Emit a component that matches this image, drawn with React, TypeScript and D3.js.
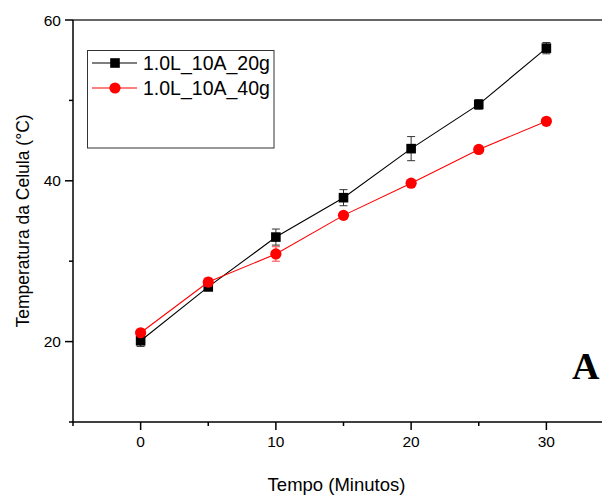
import React from 'react';
import * as d3 from 'd3';

// tempo em minutos
const tempo = [0, 5, 10, 15, 20, 25, 30];

// 1.0L_10A_20g
const serie20g = [20.1, 26.8, 33.0, 37.9, 44.0, 49.5, 56.5];
const erro20g = [0.7, 0.4, 1.0, 1.0, 1.5, 0.6, 0.7];

// 1.0L_10A_40g
const serie40g = [21.1, 27.4, 30.9, 35.7, 39.7, 43.9, 47.4];
const erro40g = [0.3, 0.5, 0.9, 0.3, 0.2, 0.2, 0.2];

const xMajor = [0, 10, 20, 30];
const xMinor = [-5, 5, 15, 25, 35];
const yMajor = [20, 40, 60];
const yMinor = [30, 50];

const width = 602;
const height = 498;
const font = "'Liberation Sans', Arial, sans-serif";

const App = () => {
  const x = d3.scaleLinear().domain([-5, 35]).range([73, 614]);
  const y = d3.scaleLinear().domain([10, 60]).range([422, 20]);

  const line = d3.line<number>()
    .x((_, i) => x(tempo[i]))
    .y(d => y(d));

  const series = [
    { name: '1.0L_10A_20g', values: serie20g, err: erro20g, color: '#000000', errColor: '#333333', shape: 'square' },
    { name: '1.0L_10A_40g', values: serie40g, err: erro40g, color: '#ff0000', errColor: '#ff4040', shape: 'circle' },
  ];

  const marker = (shape: string, cx: number, cy: number, color: string, key?: string) =>
    shape === 'square'
      ? <rect key={key} x={cx - 4.8} y={cy - 4.8} width={9.6} height={9.6} fill={color} />
      : <circle key={key} cx={cx} cy={cy} r={5.6} fill={color} />;

  const x0 = x(-5);
  const y0 = y(10);

  return (
    <svg width={width} height={height} style={{ position: 'absolute', left: 0, top: 0, background: '#fff' }}>
      {/* frame */}
      <line x1={x0} x2={width} y1={y(60)} y2={y(60)} stroke="#333" strokeWidth={1.3} />
      <line x1={x0} x2={x0} y1={y(60)} y2={y0} stroke="#000" strokeWidth={1.5} />
      <line x1={x0 - 4} x2={width} y1={y0} y2={y0} stroke="#000" strokeWidth={1.5} />

      {/* y ticks */}
      {yMajor.map(v => (
        <g key={'ym' + v}>
          <line x1={x0 - 8} x2={x0} y1={y(v)} y2={y(v)} stroke="#000" strokeWidth={1.5} />
          <text x={x0 - 12} y={y(v) + 5.5} textAnchor="end" fontFamily={font} fontSize={15.5}>{v}</text>
        </g>
      ))}
      {yMinor.map(v => (
        <line key={'yn' + v} x1={x0 - 4} x2={x0} y1={y(v)} y2={y(v)} stroke="#000" strokeWidth={1.5} />
      ))}

      {/* x ticks */}
      {xMajor.map(v => (
        <g key={'xm' + v}>
          <line x1={x(v)} x2={x(v)} y1={y0} y2={y0 + 8} stroke="#000" strokeWidth={1.5} />
          <text x={x(v)} y={y0 + 25} textAnchor="middle" fontFamily={font} fontSize={15.5}>{v}</text>
        </g>
      ))}
      {xMinor.map(v => (
        <line key={'xn' + v} x1={x(v)} x2={x(v)} y1={y0} y2={y0 + 4} stroke="#000" strokeWidth={1.5} />
      ))}

      {/* axis titles */}
      <text x={336.5} y={491} textAnchor="middle" fontFamily={font} fontSize={18.5}>Tempo (Minutos)</text>
      <text transform="translate(29,221) rotate(-90)" textAnchor="middle" fontFamily={font} fontSize={17.5}>
        Temperatura da Celula (°C)
      </text>

      {/* series */}
      {series.map(s => (
        <g key={s.name}>
          <path d={line(s.values) || ''} fill="none" stroke={s.color} strokeWidth={1.1} />
          {s.values.map((v, i) => {
            const cx = x(tempo[i]);
            const top = y(v + s.err[i]);
            const bot = y(v - s.err[i]);
            return (
              <g key={i}>
                <line x1={cx} x2={cx} y1={top} y2={bot} stroke={s.errColor} strokeWidth={1} />
                <line x1={cx - 4} x2={cx + 4} y1={top} y2={top} stroke={s.errColor} strokeWidth={1} />
                <line x1={cx - 4} x2={cx + 4} y1={bot} y2={bot} stroke={s.errColor} strokeWidth={1} />
              </g>
            );
          })}
          {s.values.map((v, i) => marker(s.shape, x(tempo[i]), y(v), s.color, 'm' + i))}
        </g>
      ))}

      {/* legend */}
      <rect x={87.5} y={50.5} width={186.5} height={97.5} fill="#fff" stroke="#333" strokeWidth={1} />
      {series.map((s, i) => {
        const ly = 63 + i * 25;
        return (
          <g key={'leg' + i}>
            <line x1={92} x2={137} y1={ly} y2={ly} stroke={s.color} strokeWidth={1.1} />
            {marker(s.shape, 115, ly, s.color)}
            <text x={143} y={ly + 7} fontFamily={font} fontSize={19.5}>{s.name}</text>
          </g>
        );
      })}

      {/* panel letter */}
      <text x={572} y={379} fontFamily="'Liberation Serif', 'Times New Roman', serif" fontWeight="bold" fontSize={38}>A</text>
    </svg>
  );
};

export default App;
